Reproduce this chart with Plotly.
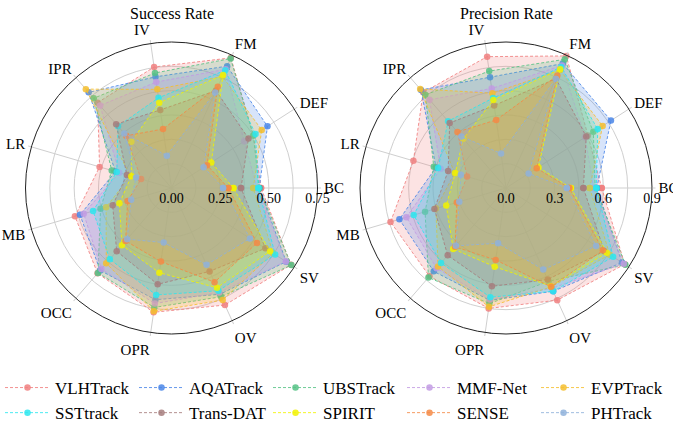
import plotly.graph_objects as go

categories = ["BC", "DEF", "FM", "IV", "IPR", "LR", "MB", "OCC", "OPR", "OV", "SV"]
methods = ["VLHTrack", "AQATrack", "UBSTrack", "MMF-Net", "EVPTrack",
           "SSTtrack", "Trans-DAT", "SPIRIT", "SENSE", "PHTrack"]
colors = ["#F07F7F", "#4A86E8", "#55C285", "#C29BE3", "#F5BE2E",
          "#2BE6EE", "#A67C7C", "#F2F200", "#F58A45", "#8FB2DB"]

# Success Rate values (order follows categories)
sr_vlhtrack = [0.46, 0.50, 0.735, 0.628, 0.58, 0.385, 0.517, 0.58, 0.645, 0.661, 0.73]
sr_aqatrack = [0.451, 0.586, 0.688, 0.577, 0.65, 0.30, 0.49, 0.56, 0.58, 0.60, 0.70]
sr_ubstrack = [0.45, 0.50, 0.731, 0.597, 0.61, 0.32, 0.38, 0.577, 0.62, 0.614, 0.732]
sr_mmfnet = [0.44, 0.444, 0.67, 0.55, 0.56, 0.28, 0.47, 0.55, 0.60, 0.59, 0.698]
sr_evptrack = [0.42, 0.551, 0.63, 0.512, 0.672, 0.22, 0.35, 0.512, 0.64, 0.633, 0.62]
sr_ssttrack = [0.446, 0.513, 0.665, 0.468, 0.42, 0.293, 0.42, 0.484, 0.555, 0.58, 0.633]
sr_transdat = [0.357, 0.47, 0.55, 0.405, 0.434, 0.239, 0.315, 0.43, 0.50, 0.471, 0.573]
sr_spirit = [0.318, 0.243, 0.638, 0.443, 0.315, 0.215, 0.279, 0.389, 0.44, 0.563, 0.602]
sr_sense = [0.292, 0.217, 0.572, 0.306, 0.355, 0.163, 0.235, 0.36, 0.382, 0.532, 0.522]
sr_phtrack = [0.265, 0.196, 0.54, 0.168, 0.37, 0.19, 0.216, 0.348, 0.283, 0.433, 0.479]

# Precision Rate values
pr_vlhtrack = [0.59, 0.60, 0.895, 0.818, 0.78, 0.595, 0.742, 0.72, 0.75, 0.76, 0.87]
pr_aqatrack = [0.56, 0.769, 0.843, 0.69, 0.80, 0.45, 0.685, 0.68, 0.70, 0.70, 0.85]
pr_ubstrack = [0.55, 0.64, 0.872, 0.728, 0.76, 0.464, 0.52, 0.73, 0.72, 0.632, 0.875]
pr_mmfnet = [0.54, 0.58, 0.83, 0.62, 0.72, 0.42, 0.64, 0.654, 0.695, 0.68, 0.863]
pr_evptrack = [0.516, 0.708, 0.80, 0.59, 0.808, 0.33, 0.45, 0.64, 0.74, 0.67, 0.76]
pr_ssttrack = [0.557, 0.672, 0.82, 0.56, 0.545, 0.436, 0.593, 0.612, 0.68, 0.70, 0.785]
pr_transdat = [0.477, 0.588, 0.741, 0.514, 0.53, 0.372, 0.46, 0.549, 0.612, 0.62, 0.72]
pr_spirit = [0.40, 0.238, 0.804, 0.548, 0.401, 0.326, 0.384, 0.497, 0.49, 0.665, 0.739]
pr_sense = [0.39, 0.225, 0.762, 0.424, 0.457, 0.25, 0.316, 0.48, 0.448, 0.67, 0.71]
pr_phtrack = [0.375, 0.166, 0.74, 0.215, 0.42, 0.29, 0.30, 0.472, 0.344, 0.553, 0.66]

sr_ticks = [0, 0.125, 0.25, 0.375, 0.5, 0.625, 0.75]
sr_ticktext = ["0.00", "", "0.25", "", "0.50", "", "0.75"]
pr_ticks = [0, 0.15, 0.3, 0.45, 0.6, 0.75, 0.9]
pr_ticktext = ["0.0", "", "0.3", "", "0.6", "", "0.9"]

sr_data = [sr_vlhtrack, sr_aqatrack, sr_ubstrack, sr_mmfnet, sr_evptrack,
           sr_ssttrack, sr_transdat, sr_spirit, sr_sense, sr_phtrack]
pr_data = [pr_vlhtrack, pr_aqatrack, pr_ubstrack, pr_mmfnet, pr_evptrack,
           pr_ssttrack, pr_transdat, pr_spirit, pr_sense, pr_phtrack]

FONT = "Liberation Serif, Times New Roman, serif"


def rgba(hexc, a):
    h = hexc.lstrip("#")
    r, g, b = int(h[0:2], 16), int(h[2:4], 16), int(h[4:6], 16)
    return f"rgba({r},{g},{b},{a})"


fig = go.Figure()
theta = categories + [categories[0]]
for i, name in enumerate(methods):
    for sub, data in (("polar", sr_data), ("polar2", pr_data)):
        vals = data[i] + [data[i][0]]
        # filled area (no legend entry)
        fig.add_trace(go.Scatterpolar(
            r=vals, theta=theta, subplot=sub, name=name,
            legendgroup=name, showlegend=False,
            mode="lines", fill="toself",
            fillcolor=rgba(colors[i], 0.22),
            line=dict(color=rgba(colors[i], 0), width=0),
            hoverinfo="skip",
        ))
        # dashed outline with markers
        fig.add_trace(go.Scatterpolar(
            r=vals, theta=theta, subplot=sub, name=name,
            legendgroup=name, showlegend=(sub == "polar"),
            mode="lines+markers",
            line=dict(color=rgba(colors[i], 0.85), width=1, dash="3px,2px"),
            marker=dict(color=rgba(colors[i], 0.85), size=6.5),
        ))

H = 423.0
W = 673.0


def polar_layout(rng, ticks, ticktext, x0, x1):
    return dict(
        domain=dict(x=[x0 / W, x1 / W], y=[1 - 334 / H, 1 - 42 / H]),
        bgcolor="white",
        radialaxis=dict(range=[0, rng], tickvals=ticks, ticktext=ticktext,
                        angle=0, tickangle=0, showline=False, ticks="",
                        gridcolor="#cfcfcf", gridwidth=1,
                        tickfont=dict(family=FONT, size=14, color="black")),
        angularaxis=dict(rotation=0, direction="counterclockwise",
                         categoryorder="array", categoryarray=categories,
                         showline=True, linecolor="#222", linewidth=1,
                         gridcolor="#cfcfcf", gridwidth=1,
                         ticks="outside", ticklen=3, tickcolor="#cfcfcf",
                         tickfont=dict(family=FONT, size=15, color="black")),
    )


fig.update_layout(
    width=673, height=423,
    margin=dict(l=0, r=0, t=0, b=0, autoexpand=False),
    paper_bgcolor="white", plot_bgcolor="white",
    font=dict(family=FONT, color="black"),
    polar=polar_layout(0.75, sr_ticks, sr_ticktext, 25.5, 317.5),
    polar2=polar_layout(0.9, pr_ticks, pr_ticktext, 360, 652),
    legend=dict(orientation="h", x=0.0, xanchor="left", y=1 - 370 / H,
                yanchor="top", font=dict(family=FONT, size=17, color="black"),
                itemwidth=45, entrywidth=74, entrywidthmode="pixels",
                tracegroupgap=0, bgcolor="rgba(0,0,0,0)"),
    annotations=[
        dict(text="Success Rate", x=171.5 / W, y=1 - 13 / H, xref="paper", yref="paper",
             xanchor="center", yanchor="middle",
             showarrow=False, font=dict(family=FONT, size=16, color="black")),
        dict(text="Precision Rate", x=506 / W, y=1 - 13 / H, xref="paper", yref="paper",
             xanchor="center", yanchor="middle",
             showarrow=False, font=dict(family=FONT, size=16, color="black")),
    ],
)

fig.write_html("out.html", config={"displayModeBar": False},
               post_script="document.body.style.margin='0';document.body.style.overflow='hidden';")
